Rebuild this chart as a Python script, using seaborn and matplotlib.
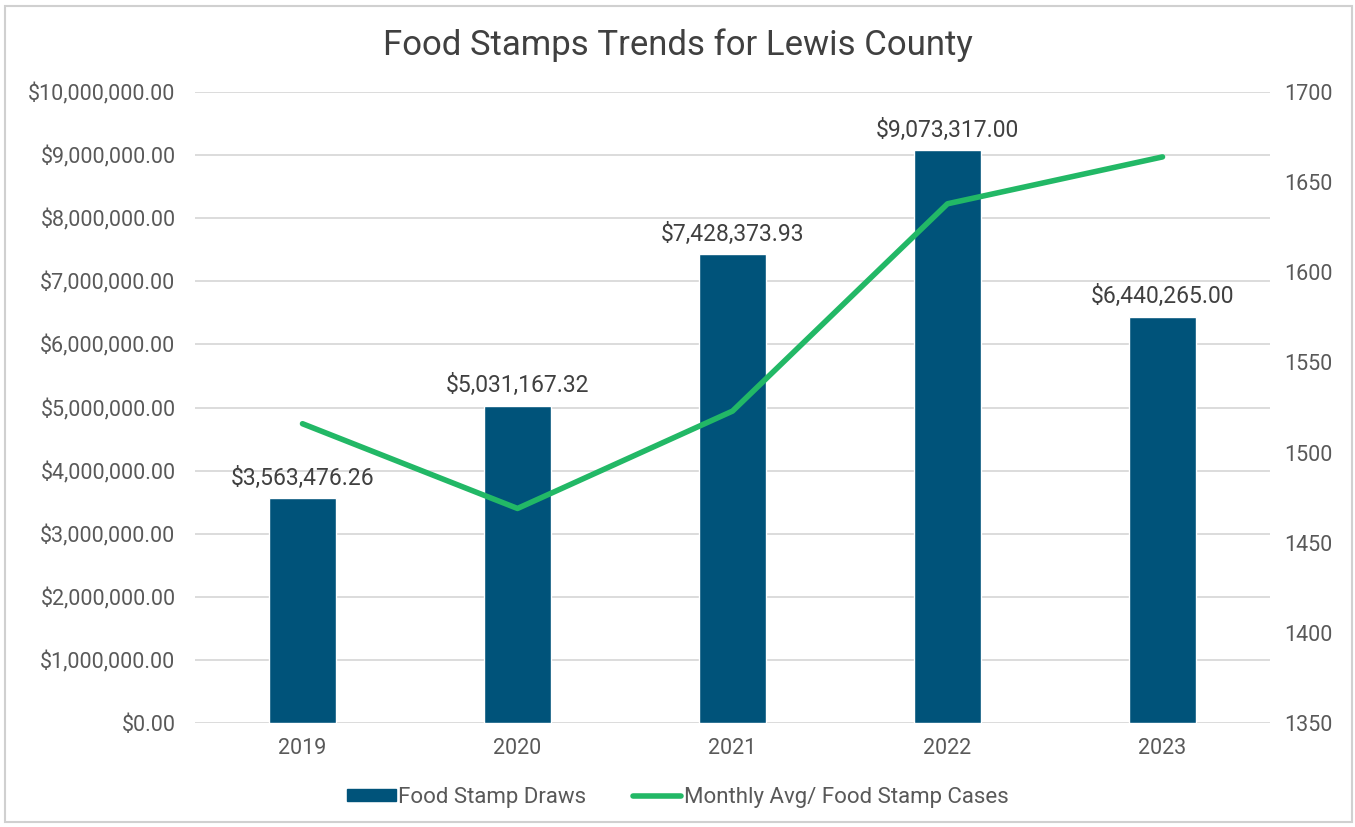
import matplotlib
matplotlib.use("Agg")
import matplotlib.pyplot as plt
import seaborn as sns
import numpy as np
import pandas as pd
from matplotlib.patches import Rectangle, Patch
from matplotlib.lines import Line2D
from matplotlib.ticker import FuncFormatter, MultipleLocator

years = ["2019", "2020", "2021", "2022", "2023"]
draws = [3563476.26, 5031167.32, 7428373.93, 9073317.00, 6440265.00]
cases = [1516, 1469, 1523, 1638, 1664]
bar_label_text = ["$3,563,476.26", "$5,031,167.32", "$7,428,373.93", "$9,073,317.00", "$6,440,265.00"]

BAR = "#00537A"
LINE = "#22B866"
TXT = "#595959"
GRID = "#D9D9D9"

sns.set_theme(style="white")
plt.rcParams["font.family"] = ["Roboto", "DejaVu Sans"]

fig = plt.figure(figsize=(13.55, 8.27), dpi=100)
ax = fig.add_axes([195/1355, 1-723/827, (1270-195)/1355, (723-92)/827])

df = pd.DataFrame({"year": years, "draws": draws, "cases": cases})
sns.barplot(data=df, x="year", y="draws", color=BAR, width=0.31, saturation=1, ax=ax, zorder=2)
ax.set_xlim(-0.5, 4.5)
ax.set_ylim(0, 10_000_000)
ax.yaxis.set_major_locator(MultipleLocator(1_000_000))
ax.yaxis.set_major_formatter(FuncFormatter(lambda v, p: f"${v:,.2f}"))
ax.grid(axis="y", color=GRID, linewidth=1.3, zorder=0)
ax.set_axisbelow(True)
for s in ax.spines.values():
    s.set_visible(False)
ax.tick_params(axis="both", length=0, labelsize=15.5, labelcolor=TXT)
ax.tick_params(axis="y", pad=14)
ax.tick_params(axis="x", pad=11)
ax.set_xlabel("")
ax.set_ylabel("")
ax.bar_label(ax.containers[0], labels=bar_label_text, padding=6, fontsize=16.5, color="#404040")

ax2 = ax.twinx()
sns.lineplot(x=np.arange(len(years)), y=cases, color=LINE, linewidth=4, ax=ax2, zorder=3)
ax2.set_ylim(1350, 1700)
ax2.yaxis.set_major_locator(MultipleLocator(50))
for s in ax2.spines.values():
    s.set_visible(False)
ax2.tick_params(axis="y", length=0, labelsize=15.5, labelcolor=TXT, pad=10)
ax2.set_ylabel("")
ax2.grid(False)

fig.text(0.5, 1-45/827, "Food Stamps Trends for Lewis County", ha="center", va="center",
         fontsize=25, color="#404040")

handles = [Patch(facecolor=BAR, edgecolor=BAR),
           Line2D([0], [0], color=LINE, linewidth=4)]
fig.legend(handles, ["Food Stamp Draws", "Monthly Avg/ Food Stamp Cases"],
           loc="center", bbox_to_anchor=(0.5, 1-797/827), ncol=2, frameon=False,
           fontsize=16, labelcolor=TXT, handlelength=2.2, handleheight=0.45,
           handletextpad=0.1, columnspacing=2.1)

fig.patches.append(Rectangle((5/1355, 5/827), 1347/1355, 816/827, transform=fig.transFigure,
                             fill=False, edgecolor="#D0D0D0", linewidth=1.5))

fig.savefig("out.png", dpi=100, facecolor="white")
